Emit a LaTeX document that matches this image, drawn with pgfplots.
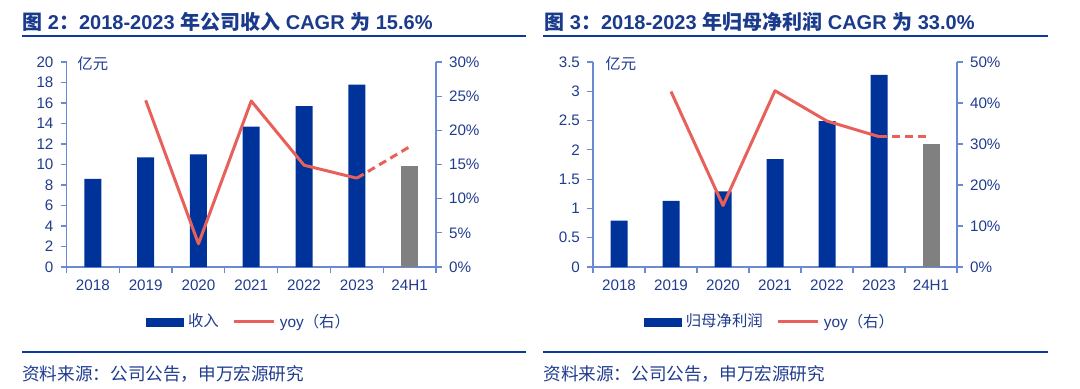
\documentclass[border=0pt]{standalone}
\usepackage{pgfplots}
\pgfplotsset{compat=1.18}
\usepackage{fontspec}
\setmainfont{Liberation Sans}
\newfontfamily\cjk{Noto Sans CJK SC}
\definecolor{barblue}{HTML}{003399}
\definecolor{ttlblue}{HTML}{1A3A8C}
\definecolor{rule}{HTML}{0B3A9E}
\definecolor{axblue}{HTML}{6A8AD4}
\definecolor{lblblue}{HTML}{203C8E}
\definecolor{yoyred}{HTML}{E8605A}
\definecolor{gray24}{HTML}{808080}
\pgfplotsset{
  basestyle/.style={
    scale only axis, anchor=south west,
    xmin=-0.5, xmax=6.5, ymin=0,
    axis line style={-, axblue, line width=0.6pt},
    tick align=outside, major tick length=3pt, minor tick length=3pt,
    tick style={axblue, line width=0.6pt},
    tick label style={font=\fontsize{7.6}{9}\selectfont, text=lblblue},
    /pgf/number format/assume math mode=true,
  },
  barstyle/.style={
    basestyle,
    axis y line*=left, axis x line*=bottom,
    xtick={0,...,6}, xticklabels={2018,2019,2020,2021,2022,2023,24H1},
    major x tick style={draw=none},
    minor xtick={-0.5,0.5,1.5,2.5,3.5,4.5,5.5,6.5},
  },
  linestyle/.style={
    basestyle,
    axis y line*=right, axis x line=none, xtick=\empty,
    yticklabel={\pgfmathprintnumber{\tick}\%},
    legend columns=2,
    legend cell align=left,
    legend style={draw=none, fill=none, anchor=center,
      font=\fontsize{7.7}{9}\selectfont, text=lblblue,
      /tikz/every even column/.append style={column sep=5pt}},
  },
}
\begin{document}
\begin{tikzpicture}
\path[use as bounding box] (0,0) rectangle (540pt,-194pt);
% titles and rules
\node[anchor=base west, inner sep=0pt, text=ttlblue, font=\fontsize{10}{12}\selectfont\bfseries] at (11pt,-14.7pt)
  {{\cjk 图} 2{\cjk ：}2018-2023 {\cjk 年公司收入} CAGR {\cjk 为} 15.6\%};
\node[anchor=base west, inner sep=0pt, text=ttlblue, font=\fontsize{10}{12}\selectfont\bfseries] at (272pt,-14.7pt)
  {{\cjk 图} 3{\cjk ：}2018-2023 {\cjk 年归母净利润} CAGR {\cjk 为} 33.0\%};
\draw[rule, line width=1pt] (11pt,-18pt) -- (263pt,-18pt);
\draw[rule, line width=1pt] (271.5pt,-18pt) -- (524pt,-18pt);
\draw[rule, line width=1pt] (11pt,-176pt) -- (263pt,-176pt);
\draw[rule, line width=1pt] (271.5pt,-176pt) -- (524pt,-176pt);
\node[anchor=west, inner sep=0pt, text=lblblue, font=\fontsize{8.8}{10}\selectfont\cjk] at (11pt,-186.75pt) {资料来源：公司公告，申万宏源研究};
\node[anchor=west, inner sep=0pt, text=lblblue, font=\fontsize{8.8}{10}\selectfont\cjk] at (271.5pt,-186.75pt) {资料来源：公司公告，申万宏源研究};
\node[anchor=west, inner sep=0pt, text=lblblue, font=\fontsize{7.7}{9}\selectfont\cjk] at (38.5pt,-32pt) {亿元};
\node[anchor=west, inner sep=0pt, text=lblblue, font=\fontsize{7.7}{9}\selectfont\cjk] at (302.5pt,-32pt) {亿元};

% ---------- left chart ----------
\begin{axis}[barstyle, at={(33.25pt,-133.5pt)}, width=184.75pt, height=102.5pt,
  ymax=20, ytick={0,2,...,20}]
\addplot[ybar, bar width=8.5pt, bar shift=0pt, fill=barblue, draw=none]
  coordinates {(0,8.6) (1,10.7) (2,11.0) (3,13.7) (4,15.7) (5,17.8)};
\addplot[ybar, bar width=8.5pt, bar shift=0pt, fill=gray24, draw=none]
  coordinates {(6,9.9)};
\end{axis}
\begin{axis}[linestyle, at={(33.25pt,-133.5pt)}, width=184.75pt, height=102.5pt,
  ymax=30, ytick={0,5,...,30}, legend style={at={(0.497,-0.268)}}]
\addlegendimage{legend image code/.code={\fill[barblue] (0pt,-2pt) rectangle (18.5pt,2pt);}}
\addlegendentry{{\cjk 收入}}
\addplot[yoyred, line width=1.5pt, line join=round,
  legend image code/.code={\draw[yoyred, line width=1.5pt] (0pt,0pt) -- (20pt,0pt);}]
  coordinates {(1,24.4) (2,3.4) (3,24.3) (4,14.9) (5,13.0)};
\addlegendentry{yoy{\cjk （右）}}
\addplot[yoyred, line width=1.5pt, dash pattern=on 4pt off 2.5pt, forget plot]
  coordinates {(5,13.0) (6,17.6)};
\end{axis}

% ---------- right chart ----------
\begin{axis}[barstyle, at={(296.5pt,-133.5pt)}, width=182pt, height=102.5pt,
  ymax=3.5, ytick={0,0.5,1,1.5,2,2.5,3,3.5}]
\addplot[ybar, bar width=8.5pt, bar shift=0pt, fill=barblue, draw=none]
  coordinates {(0,0.79) (1,1.13) (2,1.29) (3,1.84) (4,2.49) (5,3.28)};
\addplot[ybar, bar width=8.5pt, bar shift=0pt, fill=gray24, draw=none]
  coordinates {(6,2.10)};
\end{axis}
\begin{axis}[linestyle, at={(296.5pt,-133.5pt)}, width=182pt, height=102.5pt,
  ymax=50, ytick={0,10,...,50}, legend style={at={(0.489,-0.268)}}]
\addlegendimage{legend image code/.code={\fill[barblue] (0pt,-2pt) rectangle (18.5pt,2pt);}}
\addlegendentry{{\cjk 归母净利润}}
\addplot[yoyred, line width=1.5pt, line join=round,
  legend image code/.code={\draw[yoyred, line width=1.5pt] (0pt,0pt) -- (20pt,0pt);}]
  coordinates {(1,42.8) (2,15.0) (3,43.0) (4,35.6) (5,31.8)};
\addlegendentry{yoy{\cjk （右）}}
\addplot[yoyred, line width=1.5pt, dash pattern=on 4pt off 2.5pt, forget plot]
  coordinates {(5,31.8) (6,31.8)};
\end{axis}
\end{tikzpicture}
\end{document}
